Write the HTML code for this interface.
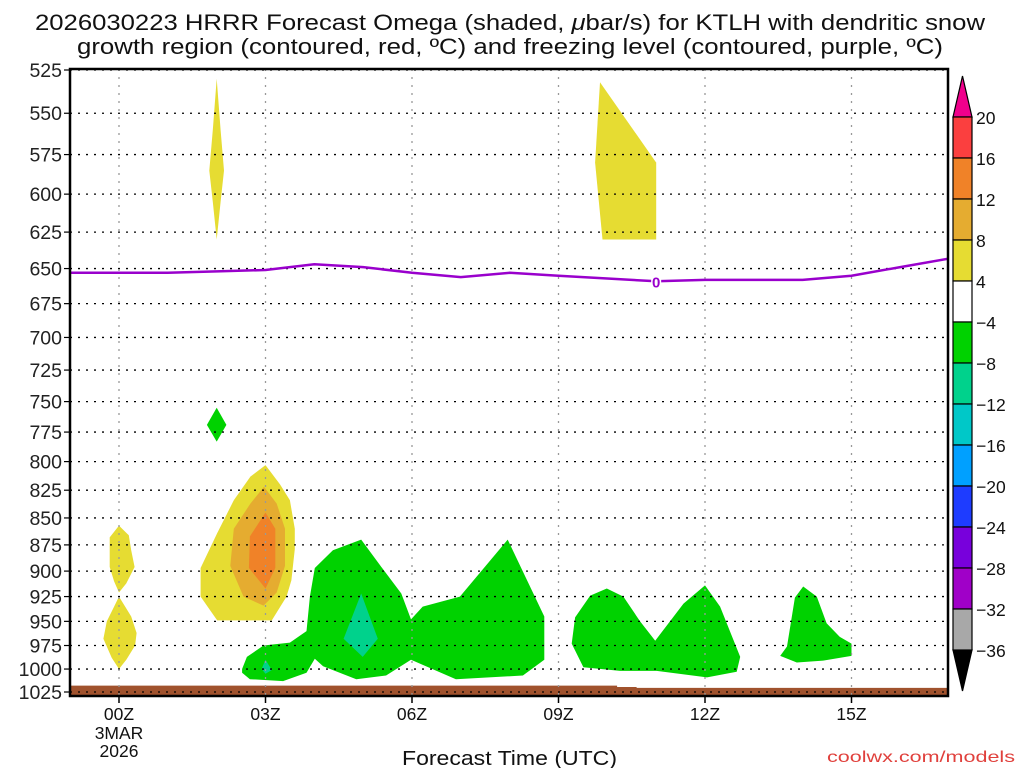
<!DOCTYPE html>
<html><head><meta charset="utf-8"><style>
html,body{margin:0;padding:0;background:#fff;width:1024px;height:768px;overflow:hidden}
svg{display:block;font-family:"Liberation Sans",sans-serif}
</style></head><body>
<svg id="chart" width="1024" height="768" viewBox="0 0 1024 768" xmlns="http://www.w3.org/2000/svg">
<text x="35" y="30" font-size="22" textLength="950" lengthAdjust="spacingAndGlyphs" fill="#111">2026030223 HRRR Forecast Omega (shaded, <tspan font-style="italic">μ</tspan>bar/s) for KTLH with dendritic snow</text>
<text x="77" y="54" font-size="22" textLength="866" lengthAdjust="spacingAndGlyphs" fill="#111">growth region (contoured, red, ºC) and freezing level (contoured, purple, ºC)</text>
<g id="plot"></g>
<g id="cbar"></g>
<text x="402" y="765" font-size="20" textLength="215" lengthAdjust="spacingAndGlyphs" fill="#111">Forecast Time (UTC)</text>
<text x="827" y="762" font-size="16" textLength="188" lengthAdjust="spacingAndGlyphs" fill="#e0403c">coolwx.com/models</text>
</svg>
<script>
// ---- data ----
const pressureTicks = [525,550,575,600,625,650,675,700,725,750,775,800,825,850,875,900,925,950,975,1000,1025];
const hourTicks = [0,3,6,9,12,15];
const hourLabels = ["00Z","03Z","06Z","09Z","12Z","15Z"];
const freezeHours = [-1,0,1,2,3,4,5,6,7,8,9,10,11,12,13,14,15,16,17];
const freezeP =     [653,653,653,652,651,647,649,653,656,653,655,657,659,658,658,658,655,649,643];
const groundHours = [-1,10.2,10.2,10.6,10.6,17];
const groundP =     [1018,1018,1019.5,1019.5,1020.5,1020.5];
const yellowSpike1 = [[2.0,530],[2.08,560],[2.15,585],[2.08,605],[2.0,630],[1.92,605],[1.85,585],[1.92,560]];
const yellowSpike2 = [[9.85,532],[11.0,580],[11.0,630],[9.9,630],[9.75,580]];
const yellowLobeA = [[0,857],[0.2,866],[0.25,880],[0.32,896],[0.15,912],[0,921],[-0.1,910],[-0.19,896],[-0.19,868]];
const yellowLobeB = [[0,925],[0.25,945],[0.36,962],[0.33,975],[0.15,990],[0,1000],[-0.15,988],[-0.32,968],[-0.25,950],[-0.1,935]];
const yellowBlob = [[3.0,803],[3.3,820],[3.5,834],[3.6,860],[3.6,879],[3.53,909],[3.43,925],[3.13,949],[2.01,949],[1.67,925],[1.67,897],[2.01,864],[2.35,834],[2.69,813]];
const orangeLight = [[2.97,822],[3.23,837],[3.4,860],[3.4,895],[3.23,921],[2.96,934],[2.55,925],[2.28,895],[2.35,860],[2.69,837]];
const orangeDark = [[3.0,845],[3.2,860],[3.2,897],[3.0,917],[2.66,897],[2.68,867]];
const greenDiamond = [[2.0,755],[2.2,769],[2.0,783],[1.8,769]];
const greenBig = [[2.52,1000],[2.62,987],[2.96,975],[3.5,972],[3.84,960],[3.91,925],[4.01,897],[4.38,880],[4.96,870],[5.34,894],[5.78,922],[5.98,948],[6.22,935],[6.98,925],[7.96,870],[8.71,945],[8.71,990],[8.27,1007],[6.9,1011],[5.98,990],[5.47,1007],[4.86,1011],[4.18,997],[4.01,989],[3.84,1004],[3.36,1013],[2.68,1011],[2.52,1004]];
const greenMid = [[9.99,917],[10.33,925],[10.67,950],[10.98,970],[11.56,932],[12.0,914],[12.31,935],[12.72,987],[12.65,1003],[12.04,1009],[11.01,1002],[10.26,1002],[9.51,998],[9.27,973],[9.34,946],[9.65,924]];
const greenRight = [[14.01,915],[14.29,925],[14.49,952],[14.76,966],[15.0,973],[15.0,986],[14.42,991],[13.88,993],[13.54,986],[13.68,976],[13.84,926]];
const tealDrop = [[4.96,922],[5.3,968],[4.99,987],[4.6,968]];
const tealSmall = [[3.0,990],[3.13,1001],[3.0,1005],[2.92,1000]];
const cbarLabels = ["20","16","12","8","4","−4","−8","−12","−16","−20","−24","−28","−32","−36"];
const cbarColors = ["#fb3f3f","#f08228","#e5ac30","#e6dc32","#ffffff","#00d200","#00d28c","#00c8c8","#00a0ff","#1e3cff","#7800dc","#a000c8","#a8a8a8"];

// ---- axes ----
const X0=70,X1=948,Y0=69,Y1=696;
const lp0=Math.log(525),lp1=Math.log(1025);
function xs(h){return 119+(h-0)*(705-119)/12;}
function ys(p){return 70+(Math.log(p)-lp0)/(lp1-lp0)*622;}
const NS="http://www.w3.org/2000/svg";
function mk(tag,attrs,parent){const e=document.createElementNS(NS,tag);for(const k in attrs)e.setAttribute(k,attrs[k]);parent.appendChild(e);return e;}
const plot=document.getElementById('plot');
const cl=mk('clipPath',{id:'clip'},plot);
mk('rect',{x:X0,y:Y0,width:X1-X0,height:Y1-Y0},cl);
const g=mk('g',{'clip-path':'url(#clip)'},plot);



function poly(arr,color,name){
  const pts=arr.map(d=>xs(d[0]).toFixed(1)+','+ys(d[1]).toFixed(1)).join(' ');
  const e=mk('polygon',{points:pts,fill:color},g);
  
  
}
poly(yellowSpike1,'#e6dc32','omega-yellow-upper-02z');
poly(yellowSpike2,'#e6dc32','omega-yellow-upper-10z');
poly(yellowLobeA,'#e6dc32','omega-yellow-00z-upper');
poly(yellowLobeB,'#e6dc32','omega-yellow-00z-lower');
poly(yellowBlob,'#e6dc32','omega-yellow-03z');
poly(orangeLight,'#e5ac30','omega-lightorange-03z');
poly(orangeDark,'#f08228','omega-orange-03z');
poly(greenDiamond,'#00d200','omega-green-02z');
poly(greenBig,'#00d200','omega-green-03z-09z');
poly(greenMid,'#00d200','omega-green-10z-12z');
poly(greenRight,'#00d200','omega-green-14z');
poly(tealDrop,'#00d28c','omega-teal-05z');
poly(tealSmall,'#00d28c','omega-teal-03z');

// ground
{
  let pts=groundHours.map((h,i)=>xs(h).toFixed(1)+','+ys(groundP[i]).toFixed(1));
  pts.push(xs(17)+','+(Y1+5));pts.push(xs(-1)+','+(Y1+5));
  const e=mk('polygon',{points:pts.join(' '),fill:'#a0522d'},g);
  
  
}
// grid
pressureTicks.forEach(p=>{
  const e=mk('line',{x1:X0,x2:X1,y1:ys(p),y2:ys(p),stroke:'#000','stroke-width':1.3,'stroke-dasharray':'2,6'},g);
  
  
});
hourTicks.forEach(h=>{
  const e=mk('line',{x1:xs(h),x2:xs(h),y1:Y0,y2:Y1,stroke:'#999','stroke-width':1.3,'stroke-dasharray':'2,6'},g);
  
  
});
// freezing level
{
  const d=freezeHours.map((h,i)=>(i?'L':'M')+xs(h).toFixed(1)+','+ys(freezeP[i]).toFixed(1)).join(' ');
  const e=mk('path',{d:d,fill:'none',stroke:'#9900cc','stroke-width':2.5},g);
  
  
  const lx=xs(11),ly=ys(659);
  mk('rect',{x:lx-5,y:ly-8,width:10,height:15,fill:'#fff'},g);
  const t=mk('text',{x:lx,y:ly+6,'font-size':15,'text-anchor':'middle',fill:'#9900cc','font-weight':'bold'},g);
  t.textContent='0';
  
  
}
// frame
{
  const e=mk('rect',{x:X0,y:Y0,width:X1-X0,height:Y1-Y0,fill:'none',stroke:'#000','stroke-width':2.5},plot);
  
  
}
// y ticks
pressureTicks.forEach(p=>{
  const y=ys(p);
  mk('line',{x1:X0-6,x2:X0,y1:y,y2:y,stroke:'#000','stroke-width':1.2},plot);
  const t=mk('text',{x:X0-8,y:y+7,'font-size':19.5,'text-anchor':'end',fill:'#222'},plot);
  t.textContent=p;
  
  
});
// x ticks
hourTicks.forEach((h,i)=>{
  const x=xs(h);
  mk('line',{x1:x,x2:x,y1:Y1,y2:Y1+7,stroke:'#000','stroke-width':1.5},plot);
  const t=mk('text',{x:x,y:720,'font-size':17.5,'text-anchor':'middle',fill:'#111'},plot);
  t.textContent=hourLabels[i];
  
  
});
{
  const t1=mk('text',{x:xs(0),y:739,'font-size':17.5,'text-anchor':'middle',fill:'#111'},plot);
  t1.textContent='3MAR';
  
  
  const t2=mk('text',{x:xs(0),y:757,'font-size':17.5,'text-anchor':'middle',fill:'#111'},plot);
  t2.textContent='2026';
  
  
}
// color bar
const cb=document.getElementById('cbar');
const CX=953,CW=19,CT=117,CS=41;
{
  const a=mk('polygon',{points:`${CX},${CT} ${CX+CW},${CT} ${CX+CW/2},${CT-41}`,fill:'#f0008c',stroke:'#000','stroke-width':1.2},cb);
  
  
  const yb=CT+CS*cbarColors.length;
  const b=mk('polygon',{points:`${CX},${yb} ${CX+CW},${yb} ${CX+CW/2},${yb+41}`,fill:'#000',stroke:'#000','stroke-width':1.2},cb);
  
  
}
cbarColors.forEach((c,i)=>{
  const r=mk('rect',{x:CX,y:CT+i*CS,width:CW,height:CS,fill:c,stroke:'#000','stroke-width':1.2},cb);
  
  
});
cbarLabels.forEach((l,i)=>{
  const t=mk('text',{x:976,y:CT+i*CS+7,'font-size':17.5,fill:'#111'},cb);
  t.textContent=l;
  
  
});
</script>
</body></html>
